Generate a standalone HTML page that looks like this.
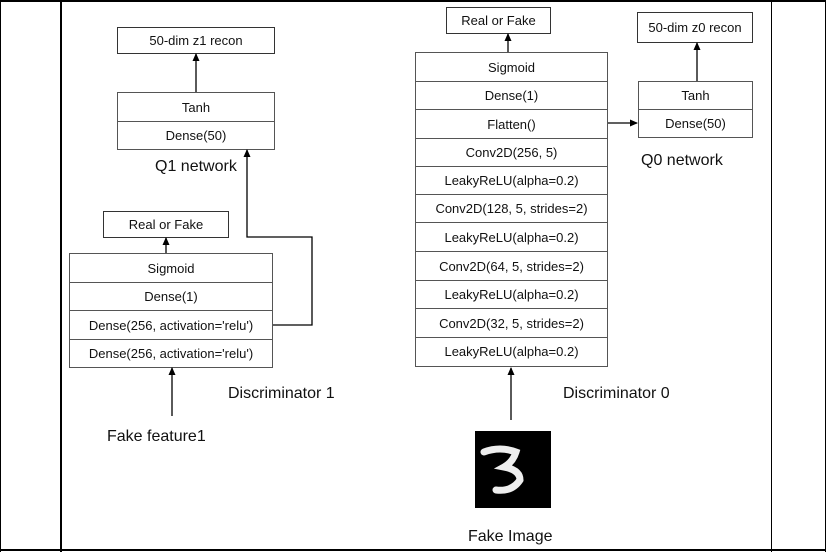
<!DOCTYPE html>
<html><head><style>
body{margin:0;width:826px;height:552px;background:#fff;overflow:hidden;position:relative;font-family:"Liberation Sans",sans-serif;}
.b{position:absolute;border:1.5px solid #333;box-sizing:border-box;font-size:13px;display:flex;align-items:center;justify-content:center;color:#111;}
.stk{position:absolute;border:1px solid #555;box-sizing:border-box;}
.stk div{box-sizing:border-box;border-bottom:1px solid #555;display:flex;align-items:center;justify-content:center;font-size:13px;color:#111;}
.stk div:last-child{border-bottom:none;}
.t{position:absolute;font-size:16px;color:#111;white-space:nowrap;}
</style></head><body>
<div style="position:absolute;left:0;top:0;width:826px;height:2px;background:#000"></div>
<div style="position:absolute;left:0;top:549px;width:826px;height:2px;background:#000"></div>
<div style="position:absolute;left:0;top:0;width:1px;height:552px;background:#000"></div>
<div style="position:absolute;left:60px;top:0;width:2px;height:552px;background:#000"></div>
<div style="position:absolute;left:771px;top:0;width:1px;height:552px;background:#000"></div>
<div style="position:absolute;left:825px;top:0;width:1px;height:552px;background:#000"></div>

<div class="b" style="left:117px;top:27px;width:158px;height:27px">50-dim z1 recon</div>
<div class="stk" style="left:117px;top:92px;width:158px;height:58px">
<div style="height:29px">Tanh</div><div style="height:27px">Dense(50)</div></div>
<div class="t" style="left:155px;top:158px">Q1 network</div>
<div class="b" style="left:103px;top:211px;width:126px;height:27px">Real or Fake</div>
<div class="stk" style="left:69px;top:253px;width:204px;height:115px">
<div style="height:29px">Sigmoid</div><div style="height:28px">Dense(1)</div><div style="height:29px">Dense(256, activation='relu')</div><div style="height:27px">Dense(256, activation='relu')</div></div>
<div class="t" style="left:228px;top:385px">Discriminator 1</div>
<div class="t" style="left:107px;top:428px">Fake feature1</div>

<div class="b" style="left:446px;top:7px;width:105px;height:27px">Real or Fake</div>
<div class="stk" style="left:415px;top:52px;width:193px;height:315px">
<div style="height:29px">Sigmoid</div><div style="height:28px">Dense(1)</div><div style="height:29px">Flatten()</div><div style="height:28px">Conv2D(256, 5)</div><div style="height:28px">LeakyReLU(alpha=0.2)</div><div style="height:28px">Conv2D(128, 5, strides=2)</div><div style="height:29px">LeakyReLU(alpha=0.2)</div><div style="height:29px">Conv2D(64, 5, strides=2)</div><div style="height:28px">LeakyReLU(alpha=0.2)</div><div style="height:29px">Conv2D(32, 5, strides=2)</div><div style="height:27px">LeakyReLU(alpha=0.2)</div></div>
<div class="b" style="left:637px;top:12px;width:116px;height:31px">50-dim z0 recon</div>
<div class="stk" style="left:638px;top:81px;width:115px;height:57px">
<div style="height:28px">Tanh</div><div style="height:27px">Dense(50)</div></div>
<div class="t" style="left:641px;top:152px">Q0 network</div>
<div class="t" style="left:563px;top:385px">Discriminator 0</div>
<div class="t" style="left:468px;top:528px">Fake Image</div>

<svg style="position:absolute;left:0;top:0" width="826" height="552">
<defs><marker id="a" markerWidth="8" markerHeight="8" refX="7" refY="4" orient="auto" markerUnits="userSpaceOnUse"><path d="M0,0.5 L8,4 L0,7.5z" fill="#000"/></marker></defs>
<g stroke="#000" stroke-width="1.3" fill="none" marker-end="url(#a)">
<line x1="196" y1="92" x2="196" y2="54"/>
<line x1="166" y1="253" x2="166" y2="238"/>
<polyline points="273,325 312,325 312,237 247,237 247,150"/>
<line x1="172" y1="416" x2="172" y2="368"/>
<line x1="508" y1="52" x2="508" y2="34"/>
<line x1="697" y1="81" x2="697" y2="43"/>
<line x1="608" y1="123" x2="637" y2="123"/>
<line x1="511" y1="420" x2="511" y2="368"/>
</g>
<rect x="475" y="431" width="76" height="77" fill="#000"/>
<path d="M484,452 Q500,446 516,452 Q513,462 504,467 Q520,470 520,480 Q512,492 496,490" stroke="#eee" stroke-width="7" fill="none" stroke-linecap="round"/>
</svg>
</body></html>
